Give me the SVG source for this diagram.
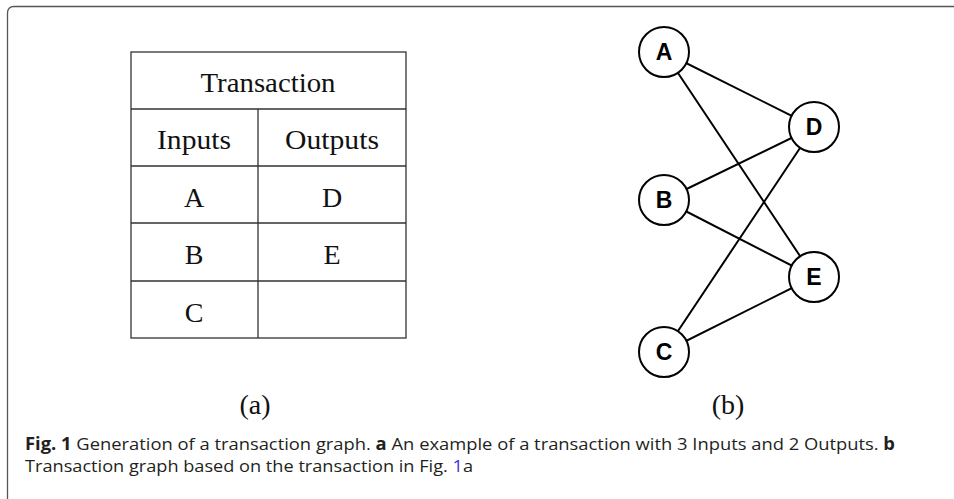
<svg xmlns="http://www.w3.org/2000/svg" width="954" height="499" viewBox="0 0 954 499">
<style>
.tbl{fill:none;stroke:#333;stroke-width:1.3}
.cm{font-family:"Liberation Serif",serif;font-size:28px;fill:#111;text-anchor:middle}
.node circle{fill:#fff;stroke:#000;stroke-width:2}
.node text{font-family:"Liberation Sans",Arial,sans-serif;font-weight:bold;font-size:23px;text-anchor:middle;fill:#000}
.edge{stroke:#000;stroke-width:2}
.cap{font-family:"Open Sans","Noto Sans",sans-serif;font-size:17px;fill:#231f20}
.b{font-weight:bold}
</style>
<rect width="954" height="499" fill="#fff"/>
<path d="M7.5,499 V13 Q7.5,6.5 14,6.5 H954" fill="none" stroke="#555" stroke-width="1.3"/>
<g id="table">
<rect class="tbl" x="131" y="52" width="275" height="286"/>
<path class="tbl" d="M131,109 H406 M131,166 H406 M131,223 H406 M131,281 H406 M258,109 V338"/>
<text class="cm" x="268" y="92" textLength="135" lengthAdjust="spacingAndGlyphs">Transaction</text>
<text class="cm" x="194" y="149" textLength="74" lengthAdjust="spacingAndGlyphs">Inputs</text>
<text class="cm" x="332" y="149" textLength="94" lengthAdjust="spacingAndGlyphs">Outputs</text>
<text class="cm" x="194" y="207">A</text>
<text class="cm" x="332" y="207">D</text>
<text class="cm" x="194" y="264">B</text>
<text class="cm" x="332" y="264">E</text>
<text class="cm" x="194" y="322">C</text>
</g>
<text class="cm" x="255" y="414">(a)</text>
<text class="cm" x="728" y="414">(b)</text>
<g id="connectors">
<line class="edge" x1="664" y1="52" x2="814" y2="127"/>
<line class="edge" x1="664" y1="52" x2="814" y2="277"/>
<line class="edge" x1="664" y1="200" x2="814" y2="127"/>
<line class="edge" x1="664" y1="200" x2="814" y2="277"/>
<line class="edge" x1="664" y1="352" x2="814" y2="127"/>
<line class="edge" x1="664" y1="352" x2="814" y2="277"/>
</g>
<g id="node-A" class="node"><circle cx="664" cy="52" r="25"/><text x="664" y="60">A</text></g>
<g id="node-B" class="node"><circle cx="664" cy="200" r="25"/><text x="664" y="208">B</text></g>
<g id="node-C" class="node"><circle cx="664" cy="352" r="25"/><text x="664" y="360">C</text></g>
<g id="node-D" class="node"><circle cx="814" cy="127" r="25"/><text x="814" y="135">D</text></g>
<g id="node-E" class="node"><circle cx="814" cy="277" r="25"/><text x="814" y="285">E</text></g>
<text class="cap" x="25" y="450" textLength="870" lengthAdjust="spacingAndGlyphs"><tspan class="b">Fig. 1</tspan>  Generation of a transaction graph. <tspan class="b">a</tspan> An example of a transaction with 3 Inputs and 2 Outputs. <tspan class="b">b</tspan></text>
<text class="cap" x="25" y="472" textLength="448" lengthAdjust="spacingAndGlyphs">Transaction graph based on the transaction in Fig. <tspan fill="#3b3bd6">1</tspan>a</text>
</svg>
